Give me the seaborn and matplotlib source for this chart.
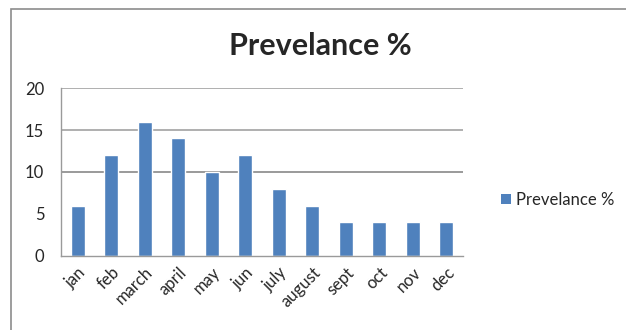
import matplotlib
matplotlib.use("Agg")
import matplotlib.pyplot as plt
from matplotlib.patches import Rectangle, Patch
import seaborn as sns
import pandas as pd

months = ["jan", "feb", "march", "april", "may", "jun", "july", "august",
          "sept", "oct", "nov", "dec"]
prevalence = [6, 12, 16, 14, 10, 12, 8, 6, 4, 4, 4, 4]
series_name = "Prevelance %"
y_ticks = [0, 5, 10, 15, 20]
grid_levels = [10, 15, 20]
grid_colors = ["#7f7f7f", "#9a9a9a", "#9a9a9a"]

bar_color = "#4F81BD"
axis_color = "#9a9a9a"

sns.set_style("white")
plt.rcParams["font.family"] = ["Lato", "DejaVu Sans"]

df = pd.DataFrame({"month": months, "value": prevalence})

fig = plt.figure(figsize=(6.26, 3.30), dpi=100)
ax = fig.add_axes([61 / 626, 1 - 256 / 330, 402 / 626, 168 / 330])

# chart frame
fig.patches.append(Rectangle((11 / 626, -0.05), 1.0, 1 - 9 / 330 + 0.05,
                             transform=fig.transFigure, fill=False,
                             edgecolor="#8c8c8c", linewidth=1.2, zorder=0))

for lvl, c in zip(grid_levels, grid_colors):
    ax.axhline(lvl, color=c, linewidth=1.1, zorder=0)

sns.barplot(data=df, x="month", y="value", color=bar_color, width=0.42,
            saturation=1, ax=ax, zorder=2)

ax.set_xlim(-0.5, len(months) - 0.5)
ax.set_ylim(0, 20)
ax.set_yticks(y_ticks)
ax.set_xlabel("")
ax.set_ylabel("")

for side in ["top", "right"]:
    ax.spines[side].set_visible(False)
for side in ["left", "bottom"]:
    ax.spines[side].set_color(axis_color)
    ax.spines[side].set_linewidth(1.0)

ax.set_xticks(range(len(months)))
ax.set_xticklabels(months, rotation=45, ha="right", va="top",
                   rotation_mode="anchor", fontsize=12)
ax.set_xticks([i - 0.5 for i in range(len(months) + 1)], minor=True)
ax.tick_params(axis="x", which="major", length=0, pad=6)
ax.tick_params(axis="x", which="minor", length=5, color=axis_color,
               direction="out", width=1)
ax.tick_params(axis="y", length=4, color=axis_color, direction="out",
               width=1, labelsize=12, pad=8)

fig.text(0.5 * (228 + 413) / 626, 1 - 46 / 330, series_name,
         ha="center", va="center", fontsize=22, fontweight="bold")

handle = Patch(facecolor=bar_color, edgecolor="none")
fig.legend([handle], [series_name], loc="center left",
           bbox_to_anchor=(494 / 626, 1 - 200 / 330), frameon=False,
           fontsize=12, handlelength=0.6, handleheight=0.6,
           handletextpad=0.35, borderaxespad=0)

fig.savefig("out.png", dpi=100)
